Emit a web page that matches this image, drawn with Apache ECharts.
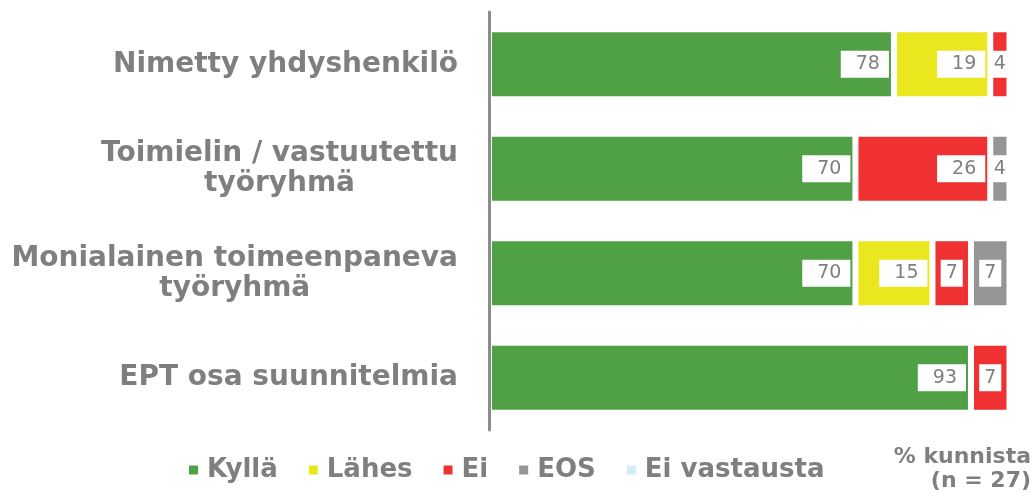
<!DOCTYPE html>
<html>
<head>
<meta charset="utf-8">
<script src="https://cdn.jsdelivr.net/npm/echarts@6/dist/echarts.min.js"></script>
<style>
html,body{margin:0;padding:0;background:#fff;}
#chart{width:1036px;height:493px;}
</style>
</head>
<body>
<div id="chart"></div>
<script>
var categories = ['Nimetty yhdyshenkilö', 'Toimielin / vastuutettu\ntyöryhmä', 'Monialainen toimeenpaneva\ntyöryhmä', 'EPT osa suunnitelmia'];
var seriesNames = ['Kyllä', 'Lähes', 'Ei', 'EOS', 'Ei vastausta'];
var kylla = [77.8, 70.4, 70.4, 92.6];
var lahes = [18.5, 0, 14.8, 0];
var ei = [3.7, 25.9, 7.4, 7.4];
var eos = [0, 3.7, 7.4, 0];
var eiVastausta = [0, 0, 0, 0];
var footnote = '% kunnista\n(n = 27)';

var colors = ['#50a046', '#ebe71f', '#ef3131', '#959598', '#d4ecf3'];
var seriesData = [kylla, lahes, ei, eos, eiVastausta];
var grey = '#7f7f7f';
var boldFont = '"DejaVu Sans", sans-serif';

function makeData(arr) {
  return arr.map(function (v) {
    var item = { value: v };
    if (v === 0) {
      item.label = { show: false };
    } else if (v < 10) {
      item.label = { position: 'inside', padding: [4, 5, 4, 5] };
    }
    return item;
  });
}

var chart = echarts.init(document.getElementById('chart'));
var option = {
  animation: false,
  backgroundColor: '#fff',
  grid: { left: 489, right: 26.5, top: 12, bottom: 63, containLabel: false },
  xAxis: {
    type: 'value', min: 0, max: 100,
    show: false
  },
  yAxis: {
    type: 'category',
    data: categories,
    inverse: true,
    z: 10,
    axisLine: { show: true, lineStyle: { color: '#8c8c8c', width: 3 } },
    axisTick: { show: false },
    axisLabel: {
      margin: 31,
      align: 'right',
      formatter: function (val) {
        return val.split('\n').map(function (s) { return '{c|' + s + '}'; }).join('\n');
      },
      rich: {
        c: {
          align: 'center',
          fontFamily: boldFont,
          fontWeight: 'bold',
          fontSize: 28,
          lineHeight: 30,
          color: grey
        }
      }
    },
    splitLine: { show: false }
  },
  legend: {
    data: seriesNames,
    left: 182,
    top: 452,
    itemWidth: 11,
    itemHeight: 11,
    itemGap: 29,
    icon: 'rect',
    textStyle: {
      fontFamily: boldFont,
      fontWeight: 'bold',
      fontSize: 26,
      color: grey,
      padding: [0, 0, 0, 3]
    }
  },
  graphic: [{
    type: 'text',
    right: 5,
    top: 445,
    style: {
      text: footnote,
      fill: grey,
      font: 'bold 22px "DejaVu Sans", sans-serif',
      lineHeight: 24,
      textAlign: 'right'
    }
  }],
  series: seriesNames.map(function (name, i) {
    return {
      name: name,
      type: 'bar',
      stack: 'total',
      barWidth: 70,
      data: makeData(seriesData[i]),
      itemStyle: { color: colors[i], borderColor: '#ffffff', borderWidth: 3 },
      label: {
        show: true,
        position: 'insideRight',
        distance: 5,
        backgroundColor: '#ffffff',
        padding: [4, 9, 4, 15],
        lineHeight: 19,
        color: grey,
        fontFamily: '"DejaVu Sans", sans-serif',
        fontSize: 19,
        formatter: function (p) { return Math.round(p.value); }
      }
    };
  })
};
chart.setOption(option);
</script>
</body>
</html>
